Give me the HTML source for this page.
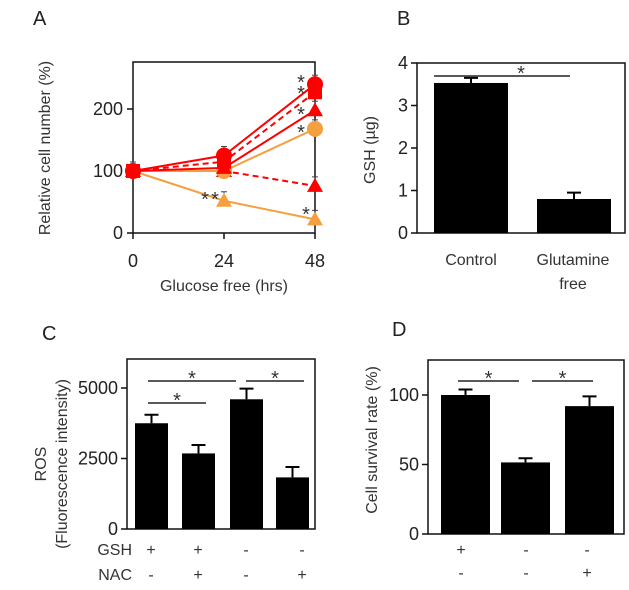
<!DOCTYPE html>
<html><head><meta charset="utf-8"><style>
html,body{margin:0;padding:0;background:#fff;}
svg{display:block;font-family:"Liberation Sans",Arial,sans-serif;}
</style></head><body>
<svg id="fig" width="629" height="590" viewBox="0 0 629 590" xmlns="http://www.w3.org/2000/svg">
<g id="pA"></g>
<g id="pB"></g>
<g id="pC"></g>
<g id="pD"></g>
</svg>
<script>
// Panel A data
const hoursA = [0, 24, 48];
const seriesRedCircle1 = [100, 125, 240];
const seriesRedCircle2 = [100, 115, 227];
const seriesRedTriSolid = [100, 105, 198];
const seriesOrangeCircle = [100, 100, 168];
const seriesRedTriDashed = [100, 100, 76];
const seriesOrangeTri = [100, 52, 22];
const ticksAY = [0, 100, 200];
const ticksAX = [0, 24, 48];
// Panel B data
const catsB = ["Control", "Glutamine"];
const valsB = [3.53, 0.8];
const errB = [0.12, 0.15];
const ticksBY = [0, 1, 2, 3, 4];
// Panel C data
const valsC = [3750, 2680, 4600, 1830];
const errC = [300, 300, 380, 370];
const gshC = ["+", "+", "-", "-"];
const nacC = ["-", "+", "-", "+"];
const ticksCY = [0, 2500, 5000];
// Panel D data
const valsD = [100, 51.5, 92];
const errD = [4, 3, 7];
const row1D = ["+", "-", "-"];
const row2D = ["-", "-", "+"];
const ticksDY = [0, 50, 100];

const NS = "http://www.w3.org/2000/svg";
function mk(parent, tag, attrs, text) {
  const e = document.createElementNS(NS, tag);
  for (const k in attrs) e.setAttribute(k, attrs[k]);
  if (text !== undefined) e.textContent = text;
  parent.appendChild(e);
  return e;
}
function lin(d0, d1, r0, r1) { return v => r0 + (v - d0) * (r1 - r0) / (d1 - d0); }

// ---------- Panel A ----------
(function () {
  const g = document.getElementById("pA");
  const x = lin(0, 48, 133, 315), y = lin(0, 200, 233, 109);
  let t = mk(g, "text", {x: 33, y: 25, "font-size": 20, fill: "#222"}, "A");
  
  
  let r = mk(g, "rect", {x: 133, y: 62, width: 182, height: 171, fill: "none", stroke: "#111", "stroke-width": 1.5});
  
  
  ticksAY.forEach(v => {
    mk(g, "line", {x1: 127, x2: 133, y1: y(v), y2: y(v), stroke: "#111", "stroke-width": 1.5});
    const tl = mk(g, "text", {x: 123, y: y(v) + 6, "font-size": 18, "text-anchor": "end", fill: "#222"}, v);
    
    
  });
  ticksAX.forEach(v => {
    mk(g, "line", {x1: x(v), x2: x(v), y1: 233, y2: 239, stroke: "#111", "stroke-width": 1.5});
    const tl = mk(g, "text", {x: x(v), y: 267, "font-size": 18, "text-anchor": "middle", fill: "#222"}, v);
    
    
  });
  t = mk(g, "text", {x: 224, y: 291, "font-size": 16, "text-anchor": "middle", fill: "#333"}, "Glucose free (hrs)");
  
  
  t = mk(g, "text", {x: 0, y: 0, "font-size": 16, "text-anchor": "middle", fill: "#333", transform: "translate(50,148) rotate(-90)"}, "Relative cell number (%)");
  
  
  const series = [
    {v: seriesOrangeTri, c: "#f5a040", m: "tri", d: null, n: "series-orange-triangle"},
    {v: seriesRedTriDashed, c: "#f00", m: "tri", d: "6,4", n: "series-red-triangle-dashed"},
    {v: seriesOrangeCircle, c: "#f5a040", m: "circ", d: null, n: "series-orange-circle"},
    {v: seriesRedTriSolid, c: "#f00", m: "tri", d: null, n: "series-red-triangle"},
    {v: seriesRedCircle2, c: "#f00", m: "sq", d: "6,4", n: "series-red-square-dashed"},
    {v: seriesRedCircle1, c: "#f00", m: "circ", d: null, n: "series-red-circle"}
  ];
  series.forEach(s => {
    const sg = mk(g, "g", {});
    
    
    const pts = hoursA.map((h, i) => x(h) + "," + y(s.v[i])).join(" ");
    const pl = {points: pts, fill: "none", stroke: s.c, "stroke-width": 2};
    if (s.d) pl["stroke-dasharray"] = s.d;
    mk(sg, "polyline", pl);
    hoursA.forEach((h, i) => {
      const cx = x(h), cy = y(s.v[i]);
      mk(sg, "line", {x1: cx, x2: cx, y1: cy, y2: cy - 9, stroke: "#444", "stroke-width": 1});
      mk(sg, "line", {x1: cx - 3, x2: cx + 3, y1: cy - 9, y2: cy - 9, stroke: "#444", "stroke-width": 1});
      let m;
      if (s.m === "circ") m = mk(sg, "circle", {cx: cx, cy: cy, r: 8, fill: s.c});
      else if (s.m === "sq") m = mk(sg, "rect", {x: cx - 7, y: cy - 7, width: 14, height: 14, fill: s.c});
      else m = mk(sg, "polygon", {points: `${cx},${cy - 8} ${cx - 8},${cy + 6} ${cx + 8},${cy + 6}`, fill: s.c});
      
      
    });
  });
  const stars = [[301, 78], [301, 89], [301, 110], [301, 128], [205, 195], [215, 195], [306, 210]];
  stars.forEach(p => {
    const st = mk(g, "text", {x: p[0], y: p[1] + 11, "font-size": 20, "text-anchor": "middle", fill: "#333"}, "*");
    
    
  });
})();

// generic bar panel
function barPanel(g, o) {
  const y = lin(0, o.ymax, o.y0, o.yTop);
  let t = mk(g, "text", {x: o.lx, y: o.ly, "font-size": 20, fill: "#222"}, o.letter);
  
  
  const r = mk(g, "rect", {x: o.fx0, y: o.fy0, width: o.fx1 - o.fx0, height: o.y0 - o.fy0, fill: "none", stroke: "#111", "stroke-width": 1.5});
  
  
  o.ticks.forEach(v => {
    mk(g, "line", {x1: o.fx0 - 6, x2: o.fx0, y1: y(v), y2: y(v), stroke: "#111", "stroke-width": 1.5});
    const tl = mk(g, "text", {x: o.fx0 - 9, y: y(v) + 6, "font-size": 18, "text-anchor": "end", fill: "#222"}, v);
    
    
  });
  o.vals.forEach((v, i) => {
    const x0 = o.bx[i], w = o.bw;
    const b = mk(g, "rect", {x: x0, y: y(v), width: w, height: o.y0 - y(v), fill: "#000"});
    
    
    const cx = x0 + w / 2, ey = y(v + o.err[i]);
    const e = mk(g, "path", {d: `M${cx},${y(v)}V${ey}M${cx - 7},${ey}H${cx + 7}`, stroke: "#000", "stroke-width": 2, fill: "none"});
    
    
  });
  o.sig.forEach(s => {
    const l = mk(g, "line", {x1: s[0], x2: s[1], y1: s[2], y2: s[2], stroke: "#222", "stroke-width": 1.5});
    
    
    const st = mk(g, "text", {x: (s[0] + s[1]) / 2 + (s[3] || 0), y: s[2] + 4, "font-size": 20, "text-anchor": "middle", fill: "#333"}, "*");
    
    
  });
  t = mk(g, "text", {x: 0, y: 0, "font-size": 16, "text-anchor": "middle", fill: "#333", transform: `translate(${o.tx},${o.ty}) rotate(-90)`}, o.title);
  
  
  return y;
}

// ---------- Panel B ----------
(function () {
  const g = document.getElementById("pB");
  barPanel(g, {letter: "B", lx: 397, ly: 25, ymax: 4, y0: 233, yTop: 63, fx0: 417, fx1: 625, fy0: 63,
    ticks: ticksBY, vals: valsB, err: errB, bx: [434, 537], bw: 74,
    sig: [[434, 570, 76, 19]], title: "GSH (\u00b5g)", tx: 375, ty: 150});
  const cx = [471, 573];
  catsB.forEach((c, i) => {
    const l = mk(g, "text", {x: cx[i], y: 265, "font-size": 16, "text-anchor": "middle", fill: "#333"}, c);
    
    
  });
  const f = mk(g, "text", {x: 573, y: 289, "font-size": 16, "text-anchor": "middle", fill: "#333"}, "free");
  
  
})();

// ---------- Panel C ----------
(function () {
  const g = document.getElementById("pC");
  barPanel(g, {letter: "C", lx: 42, ly: 340, ymax: 5000, y0: 529, yTop: 388, fx0: 127, fx1: 315, fy0: 359,
    ticks: ticksCY, vals: valsC, err: errC, bx: [135, 182, 230, 276], bw: 33,
    sig: [[148, 236, 381], [246, 304, 381], [148, 206, 403]], title: "", tx: 0, ty: 0});
  let t = mk(g, "text", {x: 0, y: 0, "font-size": 16, "text-anchor": "middle", fill: "#333", transform: "translate(46,464) rotate(-90)"}, "ROS");
  
  
  t = mk(g, "text", {x: 0, y: 0, "font-size": 16, "text-anchor": "middle", fill: "#333", transform: "translate(67,464) rotate(-90)"}, "(Fluorescence intensity)");
  
  
  t = mk(g, "text", {x: 132, y: 555, "font-size": 16, "text-anchor": "end", fill: "#333"}, "GSH");
  
  
  t = mk(g, "text", {x: 132, y: 580, "font-size": 16, "text-anchor": "end", fill: "#333"}, "NAC");
  
  
  const cx = [151, 198, 246, 302];
  gshC.forEach((s, i) => {
    const e = mk(g, "text", {x: cx[i], y: 555, "font-size": 16, "text-anchor": "middle", fill: "#333"}, s);
    
    
  });
  nacC.forEach((s, i) => {
    const e = mk(g, "text", {x: cx[i], y: 580, "font-size": 16, "text-anchor": "middle", fill: "#333"}, s);
    
    
  });
})();

// ---------- Panel D ----------
(function () {
  const g = document.getElementById("pD");
  barPanel(g, {letter: "D", lx: 392, ly: 336, ymax: 100, y0: 534, yTop: 395, fx0: 428, fx1: 624, fy0: 360,
    ticks: ticksDY, vals: valsD, err: errD, bx: [441, 501, 565], bw: 49,
    sig: [[458, 519, 381], [532, 593, 381]], title: "Cell survival rate (%)", tx: 377, ty: 440});
  const cx = [461, 526, 587];
  row1D.forEach((s, i) => {
    const e = mk(g, "text", {x: cx[i], y: 555, "font-size": 16, "text-anchor": "middle", fill: "#333"}, s);
    
    
  });
  row2D.forEach((s, i) => {
    const e = mk(g, "text", {x: cx[i], y: 578, "font-size": 16, "text-anchor": "middle", fill: "#333"}, s);
    
    
  });
})();
</script>
</body></html>
